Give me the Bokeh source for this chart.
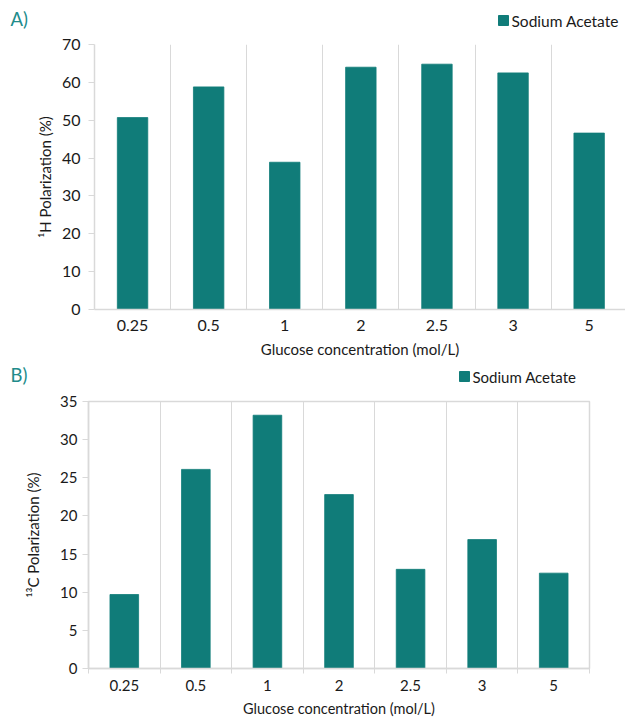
from bokeh.plotting import figure
from bokeh.models import ColumnDataSource, FixedTicker, Range1d
from bokeh.core.properties import value
from bokeh.layouts import column
from bokeh.embed import file_html
from bokeh.resources import INLINE

# Glucose concentrations (mol/L) shared by both panels
concentrations = ["0.25", "0.5", "1", "2", "2.5", "3", "5"]

# Panel A: 1H polarization (%)
h1_polarization = [50.7, 58.8, 38.9, 64.0, 64.8, 62.5, 46.6]
h1_ticks = [0, 10, 20, 30, 40, 50, 60, 70]

# Panel B: 13C polarization (%)
c13_polarization = [9.7, 26.1, 33.2, 22.8, 13.0, 16.9, 12.5]
c13_ticks = [0, 5, 10, 15, 20, 25, 30, 35]

series_name = "Sodium Acetate"
x_title = "Glucose concentration (mol/L)"

BAR = "#107c79"
TEAL_TITLE = "#218b8b"
GRID = "#d9d9d9"
TEXT = "#1a1a1a"
FONT = "Lato"


def header(letter, height, letter_x, letter_y, key_x, key_y, label_size):
    """Strip above a chart holding the panel letter and the series key.

    The strip's ranges equal its pixel size, so positions are in pixels
    measured from the left and from the top.
    """
    h = figure(width=625, height=height, output_backend="svg",
               toolbar_location=None, x_range=Range1d(0, 625),
               y_range=Range1d(height, 0), x_axis_type=None,
               y_axis_type=None, min_border=0, frame_align=False)
    h.outline_line_color = None
    h.grid.grid_line_color = None
    h.text(x=[letter_x], y=[letter_y], text=[letter],
           text_font=value(FONT), text_font_size="18.5px",
           text_color=TEAL_TITLE, text_baseline="middle", text_align="left")
    # series key: swatch plus name
    h.scatter(x=[key_x], y=[key_y], marker="square", size=10,
              fill_color=BAR, line_color=BAR)
    h.text(x=[key_x + 8], y=[key_y], text=[series_name],
           text_font=value(FONT), text_font_size=label_size,
           text_color=TEXT, text_baseline="middle", text_align="left")
    return h


def panel(values, yticks, ylabel, height, border, x_end, tick_size,
          label_size, boxed, bottom_ticks, ylab_standoff, ytick_standoff,
          xtick_standoff, xlab_standoff, xlabel_size):
    left, right, top, bottom = border
    p = figure(width=625, height=height, output_backend="svg",
               toolbar_location=None, frame_align=False,
               x_range=Range1d(0, x_end),
               y_range=Range1d(yticks[0], yticks[-1]),
               min_border_left=left, min_border_right=right,
               min_border_top=top, min_border_bottom=bottom)
    p.background_fill_color = "white"
    p.border_fill_color = "white"

    xs = [i + 0.5 for i in range(len(concentrations))]
    src = ColumnDataSource(dict(x=xs, top=values, name=concentrations))
    p.vbar(x="x", top="top", bottom=0, width=0.4, source=src,
           fill_color=BAR, line_color=BAR, line_width=0.8)

    # category boundaries as vertical grid lines
    p.xgrid.ticker = FixedTicker(ticks=list(range(1, len(concentrations))))
    p.xgrid.grid_line_color = GRID
    p.xgrid.grid_line_width = 1

    if boxed:
        p.outline_line_color = GRID
        p.outline_line_width = 1.5
        p.ygrid.grid_line_color = None
    else:
        p.outline_line_color = None
        p.ygrid.ticker = FixedTicker(ticks=[yticks[-1]])
        p.ygrid.grid_line_color = GRID
        p.ygrid.grid_line_width = 2

    xa = p.xaxis[0]
    minor = list(range(0, len(concentrations) + 1)) if bottom_ticks else []
    xa.ticker = FixedTicker(ticks=xs, minor_ticks=minor)
    xa.major_label_overrides = {x: c for x, c in zip(xs, concentrations)}
    xa.major_tick_line_color = None
    xa.major_tick_out = 0
    xa.major_tick_in = 0
    xa.minor_tick_line_color = GRID if bottom_ticks else None
    xa.minor_tick_out = 5
    xa.minor_tick_in = 0
    xa.axis_line_color = GRID
    xa.axis_line_width = 1.5
    xa.major_label_text_font = FONT
    xa.major_label_text_font_size = tick_size
    xa.major_label_text_color = TEXT
    xa.major_label_standoff = xtick_standoff
    xa.axis_label = x_title
    xa.axis_label_text_font = FONT
    xa.axis_label_text_font_style = "normal"
    xa.axis_label_text_font_size = xlabel_size
    xa.axis_label_text_color = TEXT
    xa.axis_label_standoff = xlab_standoff

    ya = p.yaxis[0]
    ya.ticker = FixedTicker(ticks=yticks)
    ya.minor_tick_line_color = None
    ya.major_tick_line_color = GRID
    ya.major_tick_out = 6
    ya.major_tick_in = 0
    ya.axis_line_color = GRID
    ya.axis_line_width = 1.5
    ya.major_label_text_font = FONT
    ya.major_label_text_font_size = tick_size
    ya.major_label_text_color = TEXT
    ya.major_label_standoff = ytick_standoff
    ya.axis_label = ylabel
    ya.axis_label_text_font = FONT
    ya.axis_label_text_font_style = "normal"
    ya.axis_label_text_font_size = label_size
    ya.axis_label_text_color = TEXT
    ya.axis_label_standoff = ylab_standoff
    return p


ha = header("A)", height=34, letter_x=10, letter_y=18, key_x=503,
            key_y=20, label_size="15.5px")
pa = panel(h1_polarization, h1_ticks, "\u00b9H Polarization (%)",
           height=326, border=(94, 0, 10, 51), x_end=531 / 76.1,
           tick_size="16px", label_size="15px", boxed=False,
           bottom_ticks=False, ylab_standoff=5, ytick_standoff=8,
           xtick_standoff=10, xlab_standoff=6, xlabel_size="15px")

hb = header("B)", height=30, letter_x=10, letter_y=14, key_x=464,
            key_y=16, label_size="15px")
pb = panel(c13_polarization, c13_ticks, "\u00b9\u00b3C Polarization (%)",
           height=330, border=(88, 36, 11, 52), x_end=7,
           tick_size="15px", label_size="15px", boxed=True,
           bottom_ticks=True, ylab_standoff=15, ytick_standoff=5,
           xtick_standoff=6, xlab_standoff=6, xlabel_size="14.5px")

layout = column(ha, pa, hb, pb, spacing=0)
open("out.html", "w").write(file_html(layout, INLINE))
